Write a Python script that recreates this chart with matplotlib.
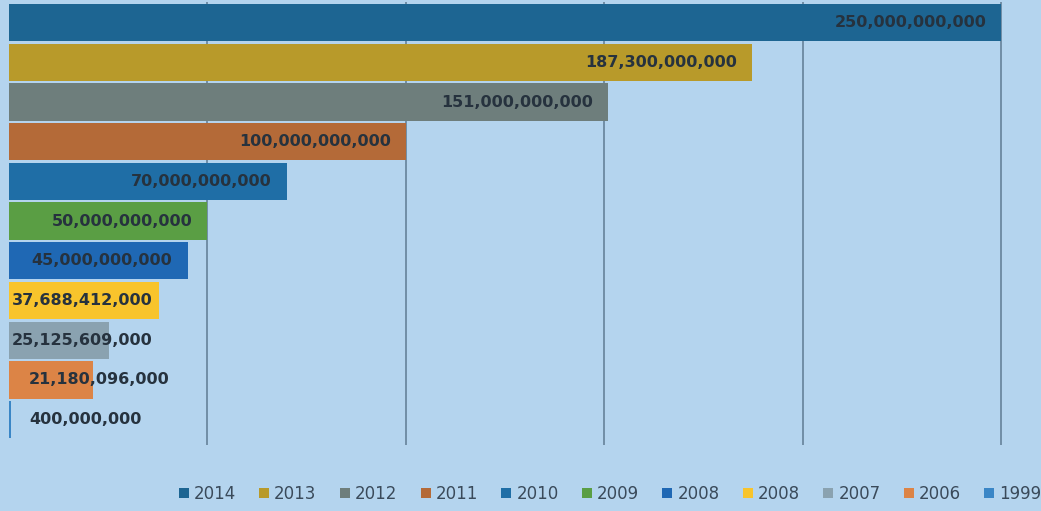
import matplotlib.pyplot as plt
from matplotlib.patches import Patch

# 数据 (从上到下)
years = ['2014', '2013', '2012', '2011', '2010', '2009', '2008', '2008', '2007', '2006', '1999']
values = [250000000000, 187300000000, 151000000000, 100000000000, 70000000000,
          50000000000, 45000000000, 37688412000, 25125609000, 21180096000, 400000000]
colors = ['#1d6592', '#b89a2a', '#6e7e7c', '#b46a38', '#1f6ea6', '#5a9e44',
          '#1f68b4', '#f8c42c', '#8aa2b0', '#dc8446', '#3a86c6']

bg = '#b4d4ee'
fig = plt.figure(figsize=(10.41, 5.11), dpi=100)
fig.patch.set_facecolor(bg)
ax = fig.add_axes([9 / 1041, 1 - 445 / 511, 1 - 9 / 1041, 443 / 511])
ax.set_facecolor(bg)

ypos = list(range(len(values)))
ax.barh(ypos, values, height=0.94, color=colors, zorder=3)
ax.set_ylim(10.64, -0.52)
ax.set_xlim(0, 260e9)

for x in [50e9, 100e9, 150e9, 200e9, 250e9]:
    ax.axvline(x, color='#5e7a92', lw=1.1, zorder=1)

for i, v in enumerate(values):
    txt = '{:,}'.format(v)
    if v >= 40e9:
        ax.text(v - 3.8e9, i, txt, ha='right', va='center', fontsize=11.5,
                fontweight='bold', color='#26323e', zorder=4)
    else:
        off = 0.8e9 if v >= 25e9 else 5e9
        ax.text(off, i, txt, ha='left', va='center', fontsize=11.5,
                fontweight='bold', color='#26323e', zorder=4)

ax.set_xticks([])
ax.set_yticks([])
for s in ax.spines.values():
    s.set_visible(False)

handles = [Patch(facecolor=c, edgecolor='none') for c in colors]
fig.legend(handles, years, loc='center', bbox_to_anchor=(610 / 1041, 1 - 494 / 511),
           ncol=11, frameon=False, fontsize=12, handlelength=0.6, handleheight=0.6,
           handletextpad=0.3, columnspacing=1.4, labelcolor='#3a4a5a')

plt.savefig('out.png', dpi=100, facecolor=bg)
